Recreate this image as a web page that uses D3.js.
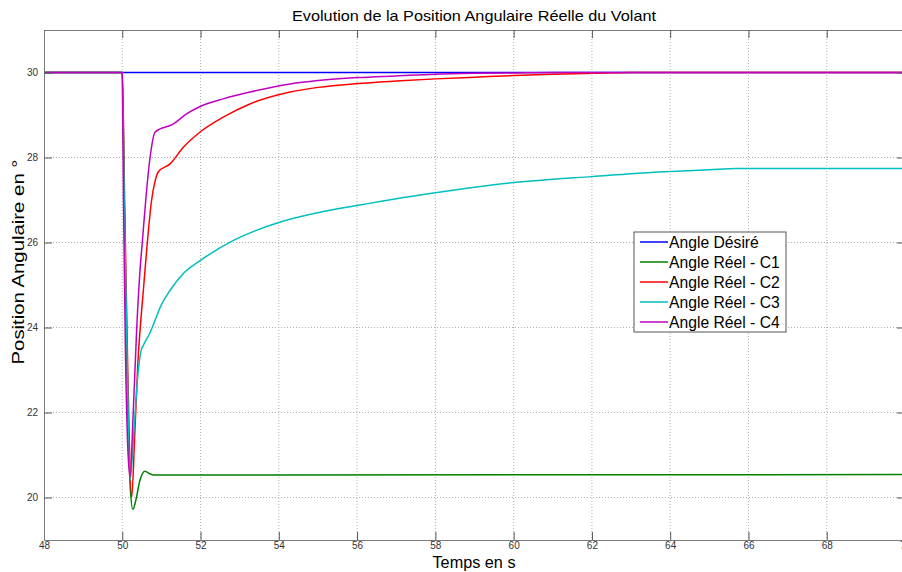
<!DOCTYPE html>
<html>
  <head>
  <meta charset="utf-8">
  <title>Position Angulaire</title>
  <style>
    body, html { margin: 0; padding: 0; background: #fff; }
    svg { display: block; font-family: "Liberation Sans", Arial, sans-serif; }
  </style>
  </head>
  <body>
  <svg id="svg" width="902" height="572"></svg>
  <script src="https://d3js.org/d3.v7.min.js"></script>
  <script>
    // ticks
    const xTicks = [48, 50, 52, 54, 56, 58, 60, 62, 64, 66, 68, 70]
    const yTicks = [20, 22, 24, 26, 28, 30]

    // Angle Désiré
    const desT = [48, 70]
    const desY = [30, 30]

    // Angle Réel - C1
    const c1T = [48, 50, 50.05, 50.12, 50.2, 50.27, 50.35, 50.45, 50.58, 50.7, 50.8, 54, 70]
    const c1Y = [30, 30, 27, 23, 20.3, 19.72, 19.95, 20.4, 20.62, 20.56, 20.53, 20.53, 20.54]

    // Angle Réel - C2
    const c2T = [48, 50, 50.06, 50.14, 50.24, 50.32, 50.4, 50.46, 50.55, 50.64, 50.75, 50.84, 50.92, 51.22, 51.56, 51.99, 52.58, 53.26, 54.29, 55, 56, 57, 58, 59, 60, 61, 62, 63, 70]
    const c2Y = [30, 30, 27, 23, 20.0, 21.5, 23.2, 24, 25, 26, 27, 27.45, 27.66, 27.85, 28.24, 28.6, 28.95, 29.26, 29.54, 29.65, 29.74, 29.8, 29.85, 29.89, 29.93, 29.96, 29.98, 30, 30]

    // Angle Réel - C3
    const c3T = [48, 50, 50.05, 50.12, 50.2, 50.3, 50.4, 50.48, 50.55, 50.7, 50.85, 50.97, 51.22, 51.56, 52, 52.84, 54, 55, 56, 57, 58, 59, 60, 61, 62, 63, 64, 65, 65.7, 70]
    const c3Y = [30, 30, 27, 23.5, 20.4, 21.6, 22.9, 23.45, 23.6, 23.86, 24.2, 24.48, 24.87, 25.27, 25.58, 26.05, 26.47, 26.7, 26.87, 27.03, 27.17, 27.3, 27.41, 27.49, 27.55, 27.62, 27.67, 27.71, 27.74, 27.74]

    // Angle Réel - C4
    const c4T = [48, 50, 50.03, 50.08, 50.14, 50.2, 50.28, 50.37, 50.45, 50.52, 50.6, 50.71, 50.84, 51.31, 51.65, 51.99, 52.58, 53.26, 54.29, 55, 56, 57, 58, 59, 60, 61, 70]
    const c4Y = [30, 30, 27, 23.5, 21.2, 20.5, 22, 24, 25.3, 26.1, 27, 28, 28.6, 28.79, 29.03, 29.2, 29.38, 29.54, 29.73, 29.81, 29.88, 29.92, 29.96, 29.98, 29.99, 30, 30]

    const series = [
      { name: 'Angle Désiré', t: desT, y: desY, color: '#0000ff' },
      { name: 'Angle Réel - C1', t: c1T, y: c1Y, color: '#008000' },
      { name: 'Angle Réel - C2', t: c2T, y: c2Y, color: '#ff0000' },
      { name: 'Angle Réel - C3', t: c3T, y: c3Y, color: '#00bfbf' },
      { name: 'Angle Réel - C4', t: c4T, y: c4Y, color: '#bf00bf' }
    ]

    const margin = { top: 30, right: -3, bottom: 32, left: 44 }
    const W = 902, H = 572
    const x = d3.scaleLinear().domain([48, 70]).range([margin.left, W - margin.right])
    const y = d3.scaleLinear().domain([19, 31]).range([H - margin.bottom, margin.top])

    const svg = d3.select('#svg')
    const axisColor = '#7a7a7a'

    // grid
    svg.append('g')
      .selectAll('line')
      .data(xTicks.slice(1, -1))
      .enter()
      .append('line')
      .attr('x1', d => x(d)).attr('x2', d => x(d))
      .attr('y1', y(31)).attr('y2', y(19))
      .attr('stroke', '#b0b0b0')
      .attr('stroke-dasharray', '1,2')
    svg.append('g')
      .selectAll('line')
      .data(yTicks)
      .enter()
      .append('line')
      .attr('x1', x(48)).attr('x2', x(70))
      .attr('y1', d => y(d)).attr('y2', d => y(d))
      .attr('stroke', '#b0b0b0')
      .attr('stroke-dasharray', '1,2')

    // curves
    const line = d3.line()
      .x(d => x(d[0]))
      .y(d => y(d[1]))
      .curve(d3.curveMonotoneX)

    svg.append('g')
      .selectAll('path')
      .data(series)
      .enter()
      .append('path')
      .attr('d', s => line(s.t.map((t, i) => [t, s.y[i]])))
      .attr('fill', 'none')
      .attr('stroke', s => s.color)
      .attr('stroke-width', 1.5)

    // frame + ticks
    const bottomAxis = d3.axisBottom(x).tickValues(xTicks).tickSize(-8).tickPadding(2).tickFormat(d3.format('d'))
    const topAxis = d3.axisTop(x).tickValues(xTicks).tickSize(-8).tickFormat('')
    const leftAxis = d3.axisLeft(y).tickValues(yTicks).tickSize(-8).tickPadding(6).tickFormat(d3.format('d'))
    const rightAxis = d3.axisRight(y).tickValues(yTicks).tickSize(-8).tickFormat('')

    const gb = svg.append('g').attr('transform', `translate(0, ${y(19)})`).call(bottomAxis)
    const gt = svg.append('g').attr('transform', `translate(0, ${y(31)})`).call(topAxis)
    const gl = svg.append('g').attr('transform', `translate(${x(48)}, 0)`).call(leftAxis)
    const gr = svg.append('g').attr('transform', `translate(${x(70)}, 0)`).call(rightAxis)
    ;[gb, gt, gl, gr].forEach(g => {
      g.select('.domain').attr('stroke', axisColor)
      g.selectAll('.tick line').attr('stroke', '#555')
      g.selectAll('.tick text').attr('fill', '#333').style('font-size', '10px')
    })

    // title + labels
    svg.append('text')
      .attr('x', 474).attr('y', 21)
      .attr('text-anchor', 'middle')
      .attr('textLength', 364)
      .attr('lengthAdjust', 'spacingAndGlyphs')
      .style('font-size', '15px')
      .text('Evolution de la Position Angulaire Réelle du Volant')
    svg.append('text')
      .attr('x', 474).attr('y', 568)
      .attr('text-anchor', 'middle')
      .attr('textLength', 83)
      .attr('lengthAdjust', 'spacingAndGlyphs')
      .style('font-size', '16px')
      .text('Temps en s')
    svg.append('text')
      .attr('transform', `translate(24, 262) rotate(-90)`)
      .attr('text-anchor', 'middle')
      .attr('textLength', 205)
      .attr('lengthAdjust', 'spacingAndGlyphs')
      .style('font-size', '16px')
      .text('Position Angulaire en °')

    // legend
    const lg = svg.append('g').attr('transform', 'translate(634, 232)')
    lg.append('rect')
      .attr('width', 152).attr('height', 100)
      .attr('fill', '#fff').attr('stroke', '#555')
    const item = lg.selectAll('g.item')
      .data(series)
      .enter()
      .append('g')
      .attr('transform', (d, i) => `translate(0, ${10 + i * 20})`)
    item.append('line')
      .attr('x1', 6).attr('x2', 34)
      .attr('stroke', d => d.color)
      .attr('stroke-width', 1.5)
    item.append('text')
      .attr('x', 35).attr('y', 5.5)
      .style('font-size', '15.7px')
      .text(d => d.name)
  </script>
  </body>
</html>
